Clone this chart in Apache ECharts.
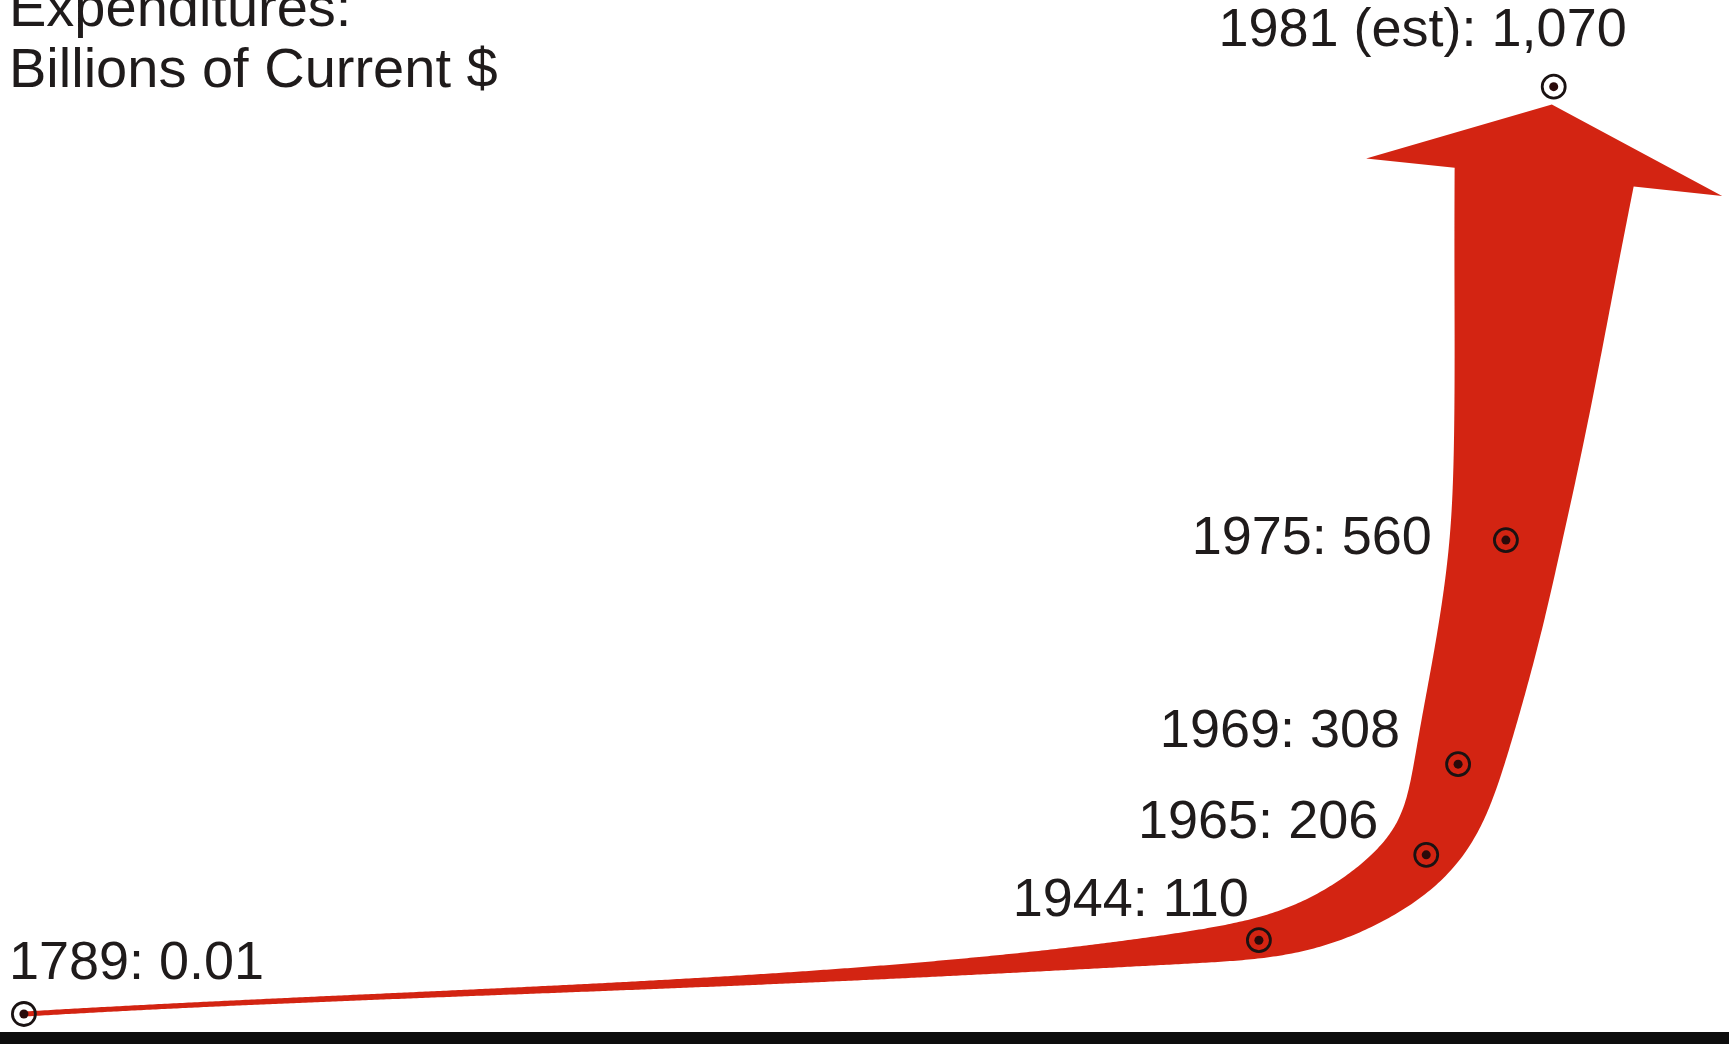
<!DOCTYPE html>
<html>
<head>
<meta charset="utf-8">
<title>Expenditures</title>
<script src="https://cdn.jsdelivr.net/npm/echarts@6/dist/echarts.min.js"></script>
<style>
  html, body { margin: 0; padding: 0; background: #fff; }
  #chart { width: 1729px; height: 1044px; }
</style>
</head>
<body>
<div id="chart"></div>
<script>
var years = [1789, 1944, 1965, 1969, 1975, 1981];
var spending = [0.01, 110, 206, 308, 560, 1070];
var estimated = [false, false, false, false, false, true];

// look of the arrow, in px
var bandHalfWidth = [2.5, 20, 35, 45, 55, 90];
var firstLift = 24;
var headGap = 18;
var headLength = 73;
var headHalf = 179;
var smoothPasses = 400;

// label anchor per point: [align, dx, dy]
var labelPlace = [
    ['left', -15, -50],
    ['right', -10, -39],
    ['right', -48, -32],
    ['right', -58, -32],
    ['right', -74, -1],
    ['right', 73, -56]
];

var FONT = '"Liberation Sans", Arial, Helvetica, sans-serif';
var TEXT = '#1f1b1b';
var RED = '#d32412';

(function () {
    'use strict';

    var myChart = echarts.init(document.getElementById('chart'));

    function unit(v) {
        var l = Math.sqrt(v[0] * v[0] + v[1] * v[1]) || 1;
        return [v[0] / l, v[1] / l];
    }

    function dist(a, b) {
        return Math.sqrt(Math.pow(b[0] - a[0], 2) + Math.pow(b[1] - a[1], 2));
    }

    function hermite(p0, p1, m0, m1, t) {
        var t2 = t * t, t3 = t2 * t;
        var a = 2 * t3 - 3 * t2 + 1, b = t3 - 2 * t2 + t, c = -2 * t3 + 3 * t2, d = t3 - t2;
        return [
            a * p0[0] + b * m0[0] + c * p1[0] + d * m1[0],
            a * p0[1] + b * m0[1] + c * p1[1] + d * m1[1]
        ];
    }

    function renderArrow(params, api) {
        if (params.dataIndex !== 0) {
            return null;
        }
        var pts = [];
        for (var i = 0; i < years.length; i++) {
            pts.push(api.coord([years[i], spending[i]]));
        }
        pts[0] = [pts[0][0], pts[0][1] - firstLift];

        var last = pts[pts.length - 1];
        var dir = unit([last[0] - pts[pts.length - 2][0], last[1] - pts[pts.length - 2][1]]);
        var tip = [last[0] - dir[0] * headGap, last[1] - dir[1] * headGap];
        var base = [tip[0] - dir[0] * headLength, tip[1] - dir[1] * headLength];
        var q = pts.slice(0, pts.length - 1).concat([base]);
        var n = q.length - 1;

        var tang = [];
        for (i = 0; i <= n; i++) {
            var a = q[Math.max(i - 1, 0)], b = q[Math.min(i + 1, n)];
            tang.push(unit([b[0] - a[0], b[1] - a[1]]));
        }
        tang[n] = dir;

        // dense centre line + half widths
        var dense = [], denseW = [];
        for (i = 0; i < n; i++) {
            var L = dist(q[i], q[i + 1]);
            var m0 = [tang[i][0] * L, tang[i][1] * L];
            var m1 = [tang[i + 1][0] * L, tang[i + 1][1] * L];
            for (var s = (i === 0 ? 0 : 1); s <= 300; s++) {
                var t = s / 300;
                var h0 = bandHalfWidth[i], h1 = bandHalfWidth[i + 1];
                dense.push(hermite(q[i], q[i + 1], m0, m1, t));
                denseW.push(i === 0 ? h0 * Math.pow(h1 / h0, t * t) : h0 + (h1 - h0) * t);
            }
        }

        // even spacing, then soften the bends
        var step = 3, c = [], w = [], acc = 0, next = 0;
        c.push(dense[0]); w.push(denseW[0]);
        for (i = 1; i < dense.length; i++) {
            var seg = dist(dense[i - 1], dense[i]);
            while (acc + seg >= next + step) {
                next += step;
                var f = (next - acc) / seg;
                c.push([dense[i - 1][0] + (dense[i][0] - dense[i - 1][0]) * f,
                        dense[i - 1][1] + (dense[i][1] - dense[i - 1][1]) * f]);
                w.push(denseW[i - 1] + (denseW[i] - denseW[i - 1]) * f);
            }
            acc += seg;
        }
        c.push(base); w.push(bandHalfWidth[n]);

        for (var k = 0; k < smoothPasses; k++) {
            var nc = c.slice(), nw = w.slice();
            for (i = 1; i < c.length - 1; i++) {
                nc[i] = [(c[i - 1][0] + 2 * c[i][0] + c[i + 1][0]) / 4,
                         (c[i - 1][1] + 2 * c[i][1] + c[i + 1][1]) / 4];
                nw[i] = (w[i - 1] + 2 * w[i] + w[i + 1]) / 4;
            }
            c = nc;
            w = nw;
        }

        var leftSide = [], rightSide = [];
        for (i = 0; i < c.length; i++) {
            var pa = c[Math.max(i - 2, 0)], pb = c[Math.min(i + 2, c.length - 1)];
            var tg = i === c.length - 1 ? dir : unit([pb[0] - pa[0], pb[1] - pa[1]]);
            var nx = -tg[1], ny = tg[0];
            leftSide.push([c[i][0] + nx * w[i], c[i][1] + ny * w[i]]);
            rightSide.push([c[i][0] - nx * w[i], c[i][1] - ny * w[i]]);
        }

        var bn = [-dir[1], dir[0]];
        var outline = leftSide.concat([
            [base[0] + bn[0] * headHalf, base[1] + bn[1] * headHalf],
            tip,
            [base[0] - bn[0] * headHalf, base[1] - bn[1] * headHalf]
        ]).concat(rightSide.reverse());

        return {
            type: 'polygon',
            shape: { points: outline },
            style: { fill: RED }
        };
    }

    function labelText(i) {
        return years[i] + (estimated[i] ? ' (est)' : '') + ': ' + spending[i].toLocaleString('en-US');
    }

    var ringData = years.map(function (y, i) {
        return {
            value: [y, spending[i]],
            symbolOffset: [0, i === 0 ? -firstLift : 0],
            label: {
                formatter: labelText(i),
                align: labelPlace[i][0],
                offset: [labelPlace[i][1], labelPlace[i][2]]
            }
        };
    });
    var dotData = years.map(function (y, i) {
        return {
            value: [y, spending[i]],
            symbolOffset: [0, i === 0 ? -firstLift : 0]
        };
    });

    myChart.setOption({
        backgroundColor: '#ffffff',
        animation: false,
        title: {
            text: 'Expenditures:\nBillions of Current $',
            left: 9,
            top: -20,
            padding: 0,
            textStyle: {
                fontFamily: FONT,
                fontSize: 56,
                lineHeight: 61,
                fontWeight: 'normal',
                color: TEXT
            }
        },
        grid: {
            left: 0,
            right: 0,
            top: 60,
            bottom: 6,
            containLabel: false
        },
        xAxis: {
            type: 'value',
            min: 1786,
            max: 2003,
            axisLine: { show: true, onZero: true, lineStyle: { color: '#0d0d0d', width: 12 } },
            axisTick: { show: false },
            axisLabel: { show: false },
            splitLine: { show: false }
        },
        yAxis: {
            type: 'value',
            min: 0,
            max: 1100,
            show: false,
            splitLine: { show: false }
        },
        series: [
            {
                type: 'custom',
                name: 'arrow',
                clip: false,
                silent: true,
                z: 1,
                encode: { x: 0, y: 1 },
                data: years.map(function (y, i) { return [y, spending[i]]; }),
                renderItem: renderArrow
            },
            {
                type: 'scatter',
                name: 'rings',
                z: 3,
                symbol: 'circle',
                symbolSize: 23,
                itemStyle: { color: 'rgba(0,0,0,0)', borderColor: '#1a1212', borderWidth: 2.8, opacity: 1 },
                label: {
                    show: true,
                    position: 'inside',
                    verticalAlign: 'middle',
                    fontFamily: FONT,
                    fontSize: 54,
                    color: TEXT
                },
                data: ringData
            },
            {
                type: 'scatter',
                name: 'dots',
                z: 4,
                symbol: 'circle',
                symbolSize: 9,
                itemStyle: { color: '#2a0a0a', opacity: 1 },
                data: dotData
            }
        ]
    });
})();
</script>
</body>
</html>
